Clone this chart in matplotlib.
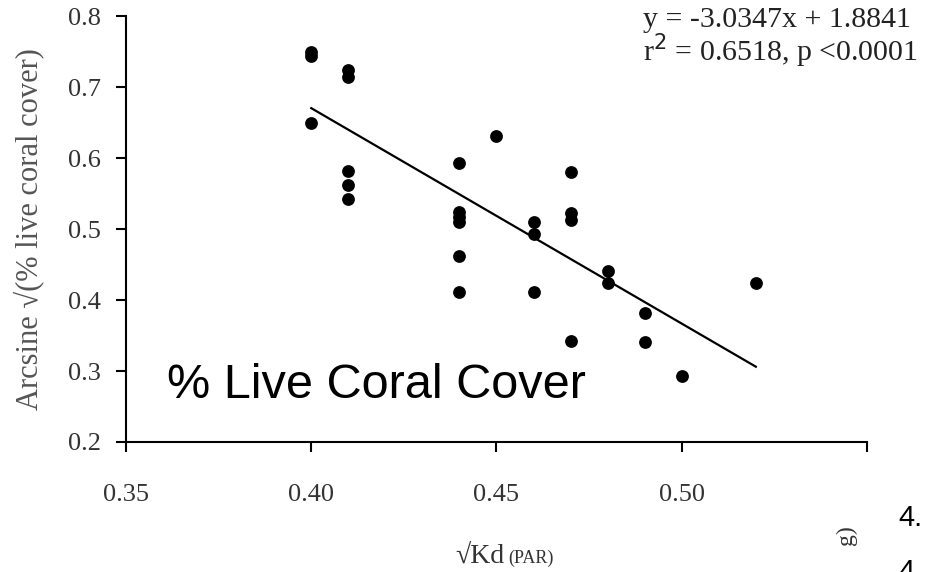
import matplotlib
matplotlib.use("Agg")
import matplotlib.pyplot as plt
import numpy as np

# sqrt Kd (PAR) vs arcsine sqrt(% live coral cover)
kd = [0.40, 0.40, 0.40,
      0.41, 0.41, 0.41, 0.41, 0.41,
      0.44, 0.44, 0.44, 0.44, 0.44, 0.44,
      0.45,
      0.46, 0.46, 0.46,
      0.47, 0.47, 0.47, 0.47,
      0.48, 0.48,
      0.49, 0.49,
      0.50,
      0.52]
cover = [0.75, 0.743, 0.65,
         0.724, 0.714, 0.582, 0.562, 0.542,
         0.593, 0.524, 0.517, 0.510, 0.462, 0.411,
         0.631,
         0.510, 0.493, 0.411,
         0.580, 0.522, 0.512, 0.342,
         0.441, 0.424,
         0.382, 0.341,
         0.293,
         0.424]
slope, intercept = -3.0347, 1.8841
xticks = [0.35, 0.40, 0.45, 0.50, 0.55]
xticklabels = ["0.35", "0.40", "0.45", "0.50", ""]
yticks = [0.2, 0.3, 0.4, 0.5, 0.6, 0.7, 0.8]

serif = "Liberation Serif"
grey = "#333333"

fig = plt.figure(figsize=(9.25, 5.72), dpi=100)
ax = fig.add_axes([126 / 925, 130 / 572, 741 / 925, 426 / 572])

ax.scatter(kd, cover, s=85, color="black", zorder=3, linewidths=0)
lx = np.array([min(kd), max(kd)])
ax.plot(lx, slope * lx + intercept, color="black", lw=1.6)

ax.set_xlim(0.35, 0.55)
ax.set_ylim(0.2, 0.8)
ax.set_xticks(xticks)
ax.set_xticklabels(xticklabels)
ax.set_yticks(yticks)
ax.set_yticklabels([f"{v:.1f}" for v in yticks])
for s in ["top", "right"]:
    ax.spines[s].set_visible(False)
for s in ["left", "bottom"]:
    ax.spines[s].set_linewidth(1.5)
ax.tick_params(direction="out", length=7, width=1.5, labelsize=19,
               labelcolor=grey, pad=11)
ax.tick_params(axis="x", pad=23)
for lab in ax.get_xticklabels() + ax.get_yticklabels():
    lab.set_family(serif)

ax.set_ylabel("Arcsine \u221a(% live coral cover)", family=serif, fontsize=22,
              color="#555555")
ax.yaxis.set_label_coords(-0.11, 0.5)
fig.text(0.545, 1 - 563 / 572, "\u221aKd", family=serif, fontsize=20, color=grey,
         ha="right", va="baseline")
fig.text(0.549, 1 - 563 / 572, "(PAR)", family=serif, fontsize=13, color=grey,
         ha="left", va="baseline")

fig.text(643 / 925, 1 - 27 / 572, "y = -3.0347x + 1.8841", family=serif,
         fontsize=21.5, color="#222222", va="baseline")
fig.text(643 / 925, 1 - 61 / 572, "r$^{2}$ = 0.6518, p <0.0001", family=serif,
         fontsize=21.5, color="#222222", va="baseline")

fig.text(167 / 925, 1 - 398 / 572, "% Live Coral Cover", family="Liberation Sans",
         fontsize=35, color="black", va="baseline")

# cropped fragments of the neighbouring figure
fig.text(898 / 925, 1 - 526 / 572, "4.", family="Liberation Sans", fontsize=21,
         va="baseline")
fig.text(898 / 925, 1 - 580 / 572, "4.", family="Liberation Sans", fontsize=21,
         va="baseline")
fig.text(846 / 925, 1 - 535 / 572, "g)", family=serif, fontsize=17, color=grey,
         rotation=90, ha="center", va="center")

fig.savefig("out.png", dpi=100)
